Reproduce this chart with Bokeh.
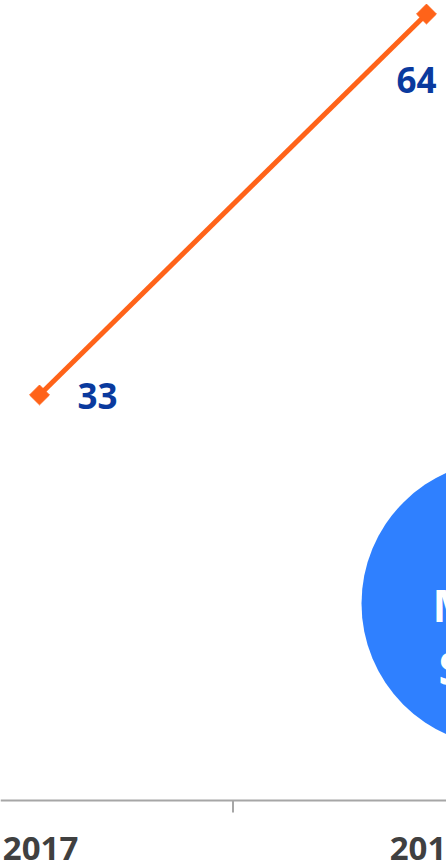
import math
from bokeh.plotting import figure
from bokeh.models import ColumnDataSource, Range1d, Span
from bokeh.core.properties import value
from bokeh.embed import file_html
from bokeh.resources import INLINE

# ---- data ----
years = ["2017", "2018"]
values = [33, 64]
year_pos = [0, 1]
boundary_ticks = [0.5]
bubble_lines = ["M", "S"]

# ---- styles / positions ----
ORANGE = "#FF6319"
BLUE_LABEL = "#0A3A9E"
BUBBLE = "#2F80FF"
AXIS_GRAY = "#A6A6A6"
TEXT_GRAY = "#404040"
label_dx = [58, -10]
label_dy = [1, 66]
bubble_x, bubble_y = 1.2016, 16.03
bubble_radius_px = 143
bubble_line_dx = [-72, -66]
bubble_line_dy = [1, 64]
year_label_drop = 48
tick_len = 12

W, H = 446, 865
p = figure(width=W, height=H, output_backend="svg", toolbar_location=None,
           x_range=Range1d(-0.1008, 1.0517), y_range=Range1d(-5.289, 65.1),
           x_axis_location=None, y_axis_location=None,
           min_border_left=0, min_border_right=0, min_border_top=0,
           min_border_bottom=0)
p.outline_line_color = None
p.grid.visible = False
p.background_fill_color = "white"
p.border_fill_color = "white"

# category axis: baseline, boundary tick, year labels
p.add_layout(Span(location=0, dimension="width", line_color=AXIS_GRAY, line_width=2))
p.ray(x=boundary_ticks, y=[0] * len(boundary_ticks), length=tick_len, length_units="screen",
      angle=-math.pi / 2, line_color=AXIS_GRAY, line_width=2)
ysrc = ColumnDataSource(dict(x=year_pos, y=[0] * len(year_pos), t=years))
p.text("x", "y", "t", source=ysrc, x_offset=1, y_offset=year_label_drop,
       text_font=value("Open Sans"), text_font_style="bold", text_font_size="33px",
       text_color=TEXT_GRAY, text_align="center", text_baseline="middle")

# bubble
p.circle(x=[bubble_x], y=[bubble_y], radius=bubble_radius_px, radius_units="screen",
         fill_color=BUBBLE, line_color=None)
bsrc = ColumnDataSource(dict(x=[bubble_x] * len(bubble_lines), y=[bubble_y] * len(bubble_lines),
                             t=bubble_lines, xo=bubble_line_dx, yo=bubble_line_dy))
p.text("x", "y", "t", source=bsrc, x_offset="xo", y_offset="yo",
       text_font=value("Open Sans"), text_font_style="bold", text_font_size="44px",
       text_color="white", text_align="left", text_baseline="middle")

# series
src = ColumnDataSource(dict(x=year_pos, y=values, label=[str(v) for v in values],
                            xo=label_dx, yo=label_dy))
p.line("x", "y", source=src, line_color=ORANGE, line_width=5)
p.scatter("x", "y", source=src, marker="square", angle=math.pi / 4, size=14,
          fill_color=ORANGE, line_color=ORANGE)
p.text("x", "y", "label", source=src, x_offset="xo", y_offset="yo",
       text_font=value("Open Sans"), text_font_style="bold", text_font_size="35px",
       text_color=BLUE_LABEL, text_align="center", text_baseline="middle")

open("out.html", "w").write(file_html(p, INLINE))
